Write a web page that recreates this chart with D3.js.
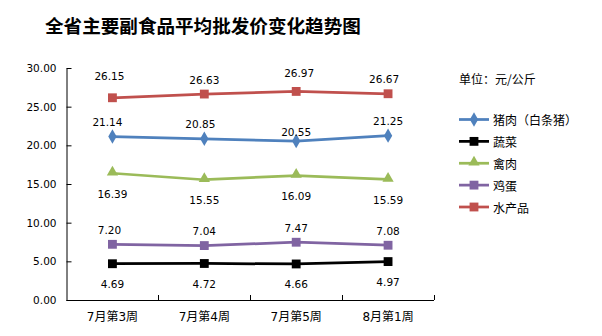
<!DOCTYPE html>
<html>
<head>
<meta charset="utf-8">
<script src="https://cdn.jsdelivr.net/npm/d3@7"></script>
<style>
  html, body { margin: 0; padding: 0; background: #fff; }
  svg { display: block; }
</style>
</head>
<body>
<svg id="chart" width="602" height="336"></svg>
<script>
// Weekly average wholesale prices of the main non-staple foods (yuan / kg)
const weeks = ["7月第3周", "7月第4周", "7月第5周", "8月第1周"];
const seriesNames = ["猪肉（白条猪）", "蔬菜", "禽肉", "鸡蛋", "水产品"];
const porkValues    = [21.14, 20.85, 20.55, 21.25];
const vegValues     = [4.69, 4.72, 4.66, 4.97];
const poultryValues = [16.39, 15.55, 16.09, 15.59];
const eggValues     = [7.20, 7.04, 7.47, 7.08];
const aquaticValues = [26.15, 26.63, 26.97, 26.67];
const yTicks = [0, 5, 10, 15, 20, 25, 30];
const titleText = "全省主要副食品平均批发价变化趋势图";
const unitText = "单位：元/公斤";

// Styling for each series: colour, marker shape, label side
const styles = [
  { color: "#4F81BD", shape: "diamond",  side: "above" },
  { color: "#000000", shape: "square",   side: "below" },
  { color: "#9BBB59", shape: "triangle", side: "below" },
  { color: "#8064A2", shape: "square",   side: "above" },
  { color: "#C0504D", shape: "square",   side: "above" }
];
const seriesValues = [porkValues, vegValues, poultryValues, eggValues, aquaticValues];
const series = seriesNames.map((name, i) => ({ name, values: seriesValues[i], ...styles[i] }));

// Hand-placed label adjustments [dx, dy], by series index then point index
const labelNudge = {
  0: [[-5, 0], [-4, 0], [0, 5], [0, 0]],
  3: [[-3, 0], [0, 0], [0, 0], [0, 0]],
  4: [[-3, -7], [0, 0], [3, -4], [-4, 0]]
};

const svg = d3.select("#chart");
const plot = { left: 66.5, right: 434, top: 68, bottom: 300 };

const x = d3.scaleBand().domain(weeks).range([plot.left, plot.right]).padding(0);
const y = d3.scaleLinear().domain([0, 30]).range([plot.bottom, plot.top]);
const cx = d => x(d) + x.bandwidth() / 2;

const numFont = "'DejaVu Sans', sans-serif";
const cjkFont = "'DejaVu Sans', 'Noto Sans CJK SC', sans-serif";

// Title, sized to span its box
const title = svg.append("text")
  .attr("x", 45).attr("y", 24)
  .attr("dominant-baseline", "central")
  .attr("font-family", "'Noto Sans CJK SC', sans-serif")
  .attr("font-weight", "bold")
  .attr("font-size", 20)
  .attr("fill", "#000")
  .text(titleText);
const titleW = title.node().getComputedTextLength();
if (titleW > 0) title.attr("font-size", 20 * 316 / titleW);

// Y axis: ticks point inward, labels on the left
const yAxis = d3.axisLeft(y).tickValues(yTicks).tickSizeInner(-5).tickSizeOuter(0)
  .tickPadding(10).tickFormat(d3.format(".2f"));
const gy = svg.append("g").attr("transform", `translate(${plot.left},0)`).call(yAxis);
gy.select(".domain").attr("stroke", "#000");
gy.selectAll(".tick line").attr("stroke", "#000");
gy.selectAll(".tick text").attr("font-family", numFont).attr("font-size", 10.5).attr("fill", "#000");

// X axis: tick marks at category boundaries, pointing upward
const gx = svg.append("g");
gx.append("line")
  .attr("x1", plot.left).attr("x2", plot.right)
  .attr("y1", plot.bottom + 0.5).attr("y2", plot.bottom + 0.5)
  .attr("stroke", "#000");
const bounds = weeks.map(w => x(w)).concat([plot.right]).slice(1);
gx.selectAll("line.bound").data(bounds).join("line")
  .attr("class", "bound")
  .attr("x1", d => Math.round(d) + 0.5).attr("x2", d => Math.round(d) + 0.5)
  .attr("y1", plot.bottom).attr("y2", plot.bottom - 5)
  .attr("stroke", "#000");
gx.selectAll("text").data(weeks).join("text")
  .attr("x", d => cx(d)).attr("y", plot.bottom + 17)
  .attr("text-anchor", "middle").attr("dominant-baseline", "central")
  .attr("font-family", cjkFont).attr("font-size", 12).attr("fill", "#000")
  .text(d => d);

// Marker symbols
function marker(shape) {
  if (shape === "diamond") return d3.symbol(d3.symbolDiamond, 60)();
  if (shape === "triangle") return d3.symbol(d3.symbolTriangle, 55)();
  return d3.symbol(d3.symbolSquare, 78)();
}

const line = d3.line().x((d, i) => cx(weeks[i])).y(d => y(d));

// Series lines, markers and value labels
series.forEach((s, si) => {
  const g = svg.append("g");
  g.append("path")
    .attr("d", line(s.values))
    .attr("fill", "none")
    .attr("stroke", s.color)
    .attr("stroke-width", 2.75)
    .attr("stroke-linejoin", "round");
  g.selectAll("path.mk").data(s.values).join("path")
    .attr("class", "mk")
    .attr("d", marker(s.shape))
    .attr("transform", (d, i) => `translate(${cx(weeks[i])},${y(d) + (s.shape === "triangle" ? -1 : 0)})`)
    .attr("fill", s.color);
  g.selectAll("text").data(s.values).join("text")
    .attr("x", (d, i) => cx(weeks[i]) + (labelNudge[si] ? labelNudge[si][i][0] : 0))
    .attr("y", (d, i) => y(d) + (s.side === "above" ? -14.5 : 20.5) + (labelNudge[si] ? labelNudge[si][i][1] : 0))
    .attr("text-anchor", "middle").attr("dominant-baseline", "central")
    .attr("font-family", numFont).attr("font-size", 10.5).attr("fill", "#000")
    .text(d => d.toFixed(2));
});

// Unit note and legend
svg.append("text")
  .attr("x", 459).attr("y", 78)
  .attr("dominant-baseline", "central")
  .attr("font-family", "'Noto Sans CJK SC', sans-serif").attr("font-size", 12).attr("fill", "#000")
  .text(unitText);

const legend = svg.append("g");
const legendY = d3.scalePoint().domain(seriesNames).range([119.5, 207]);
series.forEach(s => {
  const ly = legendY(s.name);
  const item = legend.append("g");
  item.append("line")
    .attr("x1", 459).attr("x2", 489).attr("y1", ly).attr("y2", ly)
    .attr("stroke", s.color).attr("stroke-width", 2.75);
  item.append("path")
    .attr("d", marker(s.shape))
    .attr("transform", `translate(474,${ly + (s.shape === "triangle" ? -1 : 0)})`)
    .attr("fill", s.color);
  item.append("text")
    .attr("x", 493).attr("y", ly)
    .attr("dominant-baseline", "central")
    .attr("font-family", "'Noto Sans CJK SC', sans-serif").attr("font-size", 12).attr("fill", "#000")
    .text(s.name);
});
</script>
</body>
</html>
